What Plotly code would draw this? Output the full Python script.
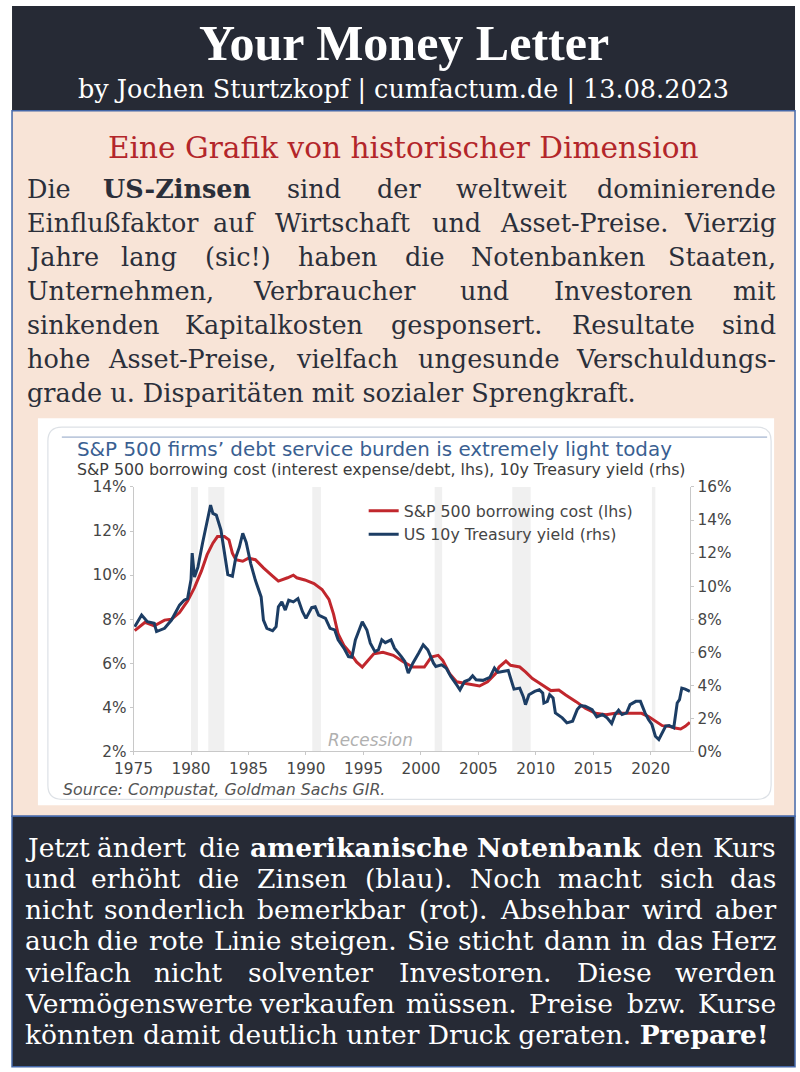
import plotly.graph_objects as go

W, H = 800, 1072
# measured: the photographed page lands at 14 + 0.98 * x, 8 + 0.985 * y,
# so layout positions taken from the reference are mapped back through that
SX, CX = 0.98, 14
SY, CY = 0.9853, 8
FS = 1 / SX

# S&P 500 borrowing cost (interest expense / debt), left axis, in %
red_year = [1975.1, 1976.0, 1976.8, 1977.7, 1978.3, 1979.0, 1979.7, 1980.3, 1980.9, 1981.4,
            1981.9, 1982.3, 1982.9, 1983.3, 1983.6, 1983.9, 1984.5, 1985.0, 1985.6, 1986.3,
            1987.1, 1987.6, 1988.4, 1988.9, 1989.2, 1989.9, 1990.7, 1991.4, 1992.0, 1992.4,
            1992.8, 1993.3, 1993.8, 1994.4, 1994.9, 1995.3, 1995.9, 1996.7, 1997.6, 1998.5,
            1999.3, 2000.3, 2000.9, 2001.5, 2001.9, 2002.5, 2003.1, 2003.9, 2005.1, 2005.8,
            2006.5, 2006.8, 2007.4, 2007.8, 2008.6, 2009.1, 2009.7, 2010.3, 2010.9, 2011.3,
            2012.0, 2012.6, 2013.5, 2014.3, 2015.2, 2016.1, 2016.9, 2018.1, 2019.2, 2019.8,
            2020.4, 2021.0, 2021.6, 2022.1, 2022.6, 2023.0, 2023.4]
red_cost = [7.48, 7.86, 7.70, 7.96, 8.00, 8.30, 8.83, 9.43, 10.18, 10.93,
            11.45, 11.75, 11.75, 11.60, 11.00, 10.70, 10.63, 10.77, 10.70, 10.33,
            9.96, 9.73, 9.88, 10.00, 9.88, 9.78, 9.62, 9.35, 8.90, 8.23,
            7.33, 6.81, 6.50, 6.06, 5.83, 6.06, 6.43, 6.50, 6.36, 6.06,
            5.83, 5.83, 6.28, 6.36, 6.13, 5.53, 5.16, 5.08, 4.97, 5.16,
            5.53, 5.83, 6.10, 5.91, 5.83, 5.61, 5.31, 5.11, 4.91, 4.76,
            4.79, 4.56, 4.26, 3.96, 3.73, 3.66, 3.73, 3.73, 3.73, 3.58,
            3.36, 3.17, 3.14, 3.06, 3.02, 3.14, 3.32]

# US 10y Treasury yield, right axis, in %
blue_year = [1975.1, 1975.7, 1976.2, 1976.8, 1977.0, 1977.7, 1978.3, 1979.0, 1979.4, 1979.7,
             1980.0, 1980.1, 1980.3, 1980.6, 1981.0, 1981.4, 1981.7, 1981.9, 1982.2, 1982.6,
             1982.9, 1983.2, 1983.6, 1983.9, 1984.2, 1984.5, 1984.8, 1985.2, 1985.6, 1986.1,
             1986.3, 1986.6, 1987.1, 1987.4, 1987.6, 1987.9, 1988.2, 1988.5, 1988.9, 1989.3,
             1989.7, 1990.0, 1990.5, 1990.8, 1991.1, 1991.7, 1992.1, 1992.5, 1992.8, 1993.3,
             1993.7, 1994.0, 1994.3, 1994.6, 1994.9, 1995.3, 1995.6, 1996.0, 1996.3, 1996.6,
             1996.9, 1997.4, 1997.7, 1998.3, 1998.6, 1998.9, 1999.3, 1999.8, 2000.2, 2000.6,
             2001.1, 2001.3, 2001.8, 2002.2, 2002.6, 2003.1, 2003.4, 2003.8, 2004.2, 2004.5,
             2004.8, 2005.4, 2006.0, 2006.4, 2006.7, 2007.1, 2007.6, 2007.8, 2008.1, 2008.6,
             2008.9, 2009.1, 2009.4, 2009.9, 2010.3, 2010.6, 2010.7, 2011.0, 2011.2, 2011.5,
             2011.7, 2012.3, 2012.7, 2013.2, 2013.6, 2013.9, 2014.3, 2014.9, 2015.3, 2015.8,
             2016.2, 2016.6, 2016.9, 2017.2, 2017.5, 2017.9, 2018.2, 2018.7, 2019.1, 2019.5,
             2019.8, 2020.1, 2020.4, 2020.7, 2021.0, 2021.3, 2021.6, 2022.0, 2022.3, 2022.5,
             2022.7, 2023.0, 2023.4]
blue_yield = [7.55, 8.25, 7.85, 7.75, 7.25, 7.45, 7.95, 8.85, 9.15, 9.25,
              10.40, 12.00, 10.55, 11.15, 12.60, 13.80, 14.90, 14.40, 14.30, 13.40,
              12.00, 10.70, 10.60, 11.75, 12.35, 13.20, 12.65, 11.35, 10.35, 9.35,
              7.95, 7.45, 7.30, 7.55, 8.75, 9.05, 8.55, 9.15, 9.05, 9.25,
              8.45, 8.05, 8.70, 8.75, 8.25, 8.05, 7.45, 7.35, 6.75, 6.25,
              5.74, 5.70, 6.75, 7.25, 7.85, 7.35, 6.55, 6.04, 6.14, 6.75,
              6.58, 6.75, 6.25, 5.74, 5.44, 4.74, 5.34, 5.94, 6.45, 6.14,
              5.34, 5.14, 5.24, 5.04, 4.54, 4.04, 3.73, 4.23, 4.34, 4.58,
              4.34, 4.30, 4.48, 5.04, 4.78, 4.84, 4.90, 4.44, 3.77, 3.83,
              3.33, 2.83, 3.43, 3.63, 3.73, 3.53, 2.93, 3.03, 3.43, 3.23,
              2.33, 2.03, 1.73, 1.83, 2.53, 2.77, 2.73, 2.53, 2.09, 2.23,
              2.03, 1.69, 2.23, 2.49, 2.23, 2.33, 2.83, 3.03, 3.03, 2.33,
              1.93, 1.63, 0.92, 0.72, 1.12, 1.53, 1.57, 1.43, 2.93, 3.13,
              3.83, 3.77, 3.63]

recession_start = [1980.0, 1981.5, 1990.55, 2001.2, 2007.95, 2020.1]
recession_end = [1980.6, 1982.9, 1991.3, 2001.85, 2009.55, 2020.4]

x_ticks = [1975, 1980, 1985, 1990, 1995, 2000, 2005, 2010, 2015, 2020]
left_ticks = [2, 4, 6, 8, 10, 12, 14]
right_ticks = [0, 2, 4, 6, 8, 10, 12, 14, 16]

intro_title = "Eine Grafik von historischer Dimension"
intro_lines = [
    "Die **US-Zinsen** sind der weltweit dominierende",
    "Einflußfaktor auf Wirtschaft und Asset-Preise. Vierzig",
    "Jahre lang (sic!) haben die Notenbanken Staaten,",
    "Unternehmen, Verbraucher und Investoren mit",
    "sinkenden Kapitalkosten gesponsert. Resultate sind",
    "hohe Asset-Preise, vielfach ungesunde Verschuldungs-",
    "grade u. Disparitäten mit sozialer Sprengkraft.",
]
outro_lines = [
    "Jetzt ändert die **amerikanische** **Notenbank** den Kurs",
    "und erhöht die Zinsen (blau). Noch macht sich das",
    "nicht sonderlich bemerkbar (rot). Absehbar wird aber",
    "auch die rote Linie steigen. Sie sticht dann in das Herz",
    "vielfach nicht solventer Investoren. Diese werden",
    "Vermögenswerte verkaufen müssen. Preise bzw. Kurse",
    "könnten damit deutlich unter Druck geraten. **Prepare!**",
]

DARK = "#262a35"
PEACH = "#f8e4d7"
FRAME = "#4467a8"
SERIF = "DejaVu Serif, Liberation Serif, serif"
SANS = "DejaVu Sans, Verdana, sans-serif"
TICK = "#454545"

# rough advance widths (per 1000 em) for the serif, used to spread words on justified lines
CW = dict(zip("abcdefghijklmnopqrstuvwxyz",
              [596, 640, 560, 640, 592, 370, 640, 644, 320, 310, 606, 320, 948,
               644, 602, 640, 640, 478, 513, 402, 644, 565, 856, 564, 565, 527]))
CW.update(dict(zip("ABCDEFGHIJKLMNOPQRSTUVWXYZ",
                   [722, 735, 765, 802, 730, 694, 799, 872, 395, 401, 747, 664, 1024,
                    875, 820, 673, 820, 753, 685, 667, 843, 722, 1028, 712, 660, 695])))
CW.update({"ä": 596, "ö": 602, "ü": 644, "ß": 640, ".": 318, ",": 318, "-": 338,
           "(": 390, ")": 390, "!": 402, ":": 337})


def px(x):
    return (x - CX) / SX / W


def py(y):
    return 1 - (y - CY) / SY / H


def text_w(s, size, bold=False):
    # width as it ends up in the picture
    w = sum(CW.get(c, 600) for c in s) * size / 1000
    return w * 1.1 if bold else w


def add_text(fig, text, x, y, size, color, family=SERIF, anchor="left", **kw):
    fig.add_annotation(x=px(x), y=py(y), xref="paper", yref="paper", text=text,
                       showarrow=False, xanchor=anchor, yanchor="middle",
                       font=dict(family=family, size=size * FS, color=color), **kw)


def add_line(fig, line, y, x0, x1, size, color, justify=True):
    parts = [(w.strip("*"), w.startswith("**")) for w in line.split(" ")]
    if not justify:
        txt = " ".join(f"<b>{w}</b>" if b else w for w, b in parts)
        add_text(fig, txt, x0, y, size, color)
        return
    widths = [text_w(w, size, b) for w, b in parts]
    gap = (x1 - x0 - sum(widths)) / (len(parts) - 1)
    cur = x0
    for i, ((w, b), ww) in enumerate(zip(parts, widths)):
        txt = f"<b>{w}</b>" if b else w
        if i == 0:
            add_text(fig, txt, cur, y, size, color, anchor="left")
        elif i == len(parts) - 1:
            add_text(fig, txt, x1, y, size, color, anchor="right")
        else:
            add_text(fig, txt, cur + ww / 2, y, size, color, anchor="center")
        cur += ww + gap


def rect(fig, x0, y0, x1, y1, fill, line=None, lw=0):
    fig.add_shape(type="rect", xref="paper", yref="paper", layer="below",
                  x0=px(x0), x1=px(x1), y0=py(y1), y1=py(y0), fillcolor=fill,
                  line=dict(color=line or fill, width=lw))


def rounded(x0, y0, x1, y1, r):
    p = lambda x, y: f"{px(x)},{py(y)}"
    return (f"M {p(x0 + r, y0)} L {p(x1 - r, y0)} Q {p(x1, y0)} {p(x1, y0 + r)} "
            f"L {p(x1, y1 - r)} Q {p(x1, y1)} {p(x1 - r, y1)} L {p(x0 + r, y1)} "
            f"Q {p(x0, y1)} {p(x0, y1 - r)} L {p(x0, y0 + r)} Q {p(x0, y0)} {p(x0 + r, y0)} Z")


fig = go.Figure()

fig.add_trace(go.Scatter(x=red_year, y=red_cost, mode="lines", yaxis="y",
                         name="S&P 500 borrowing cost (lhs)",
                         line=dict(color="#c1272d", width=3)))
fig.add_trace(go.Scatter(x=blue_year, y=blue_yield, mode="lines", yaxis="y2",
                         name="US 10y Treasury yield (rhs)",
                         line=dict(color="#1c3d64", width=3)))

# page blocks
rect(fig, 7, 5, 793, 110, DARK)
rect(fig, 7, 110, 793, 817, PEACH, FRAME, 1.5)
rect(fig, 33, 418, 772, 806, "white")
fig.add_shape(type="path", xref="paper", yref="paper", layer="below",
              path=rounded(43, 427, 769, 800, 14), line=dict(color="#dde1e6", width=1.2))
fig.add_shape(type="line", xref="paper", yref="paper", layer="below",
              x0=px(57), x1=px(765), y0=py(437), y1=py(437),
              line=dict(color="#8ea3c4", width=1))
rect(fig, 7, 817, 793, 1068, DARK, FRAME, 1.5)

for a, b in zip(recession_start, recession_end):
    fig.add_shape(type="rect", xref="x", yref="y", layer="below",
                  x0=a, x1=b, y0=2, y1=14, fillcolor="#f0f0f0", line=dict(width=0))

# header
add_text(fig, "<b>Your Money Letter</b>", 400, 42, 49, "white",
         family="Liberation Serif, serif", anchor="center")
add_text(fig, "by Jochen Sturtzkopf | cumfactum.de | 13.08.2023", 400, 88, 25, "white",
         anchor="center")

# intro block
add_text(fig, intro_title, 400, 147, 29, "#b3262a", anchor="center")
for i, line in enumerate(intro_lines):
    add_line(fig, line, 188 + i * 34.2, 20, 776, 25, "#2b2f3a",
             justify=i < len(intro_lines) - 1)

# chart texts
add_text(fig, "S&P 500 firms’ debt service burden is extremely light today", 70, 449, 19.5,
         "#3a5f92", family=SANS)
add_text(fig, "S&P 500 borrowing cost (interest expense/debt, lhs), 10y Treasury yield (rhs)",
         70, 469, 15.5, "#3c3c3c", family=SANS)
add_text(fig, "<i>Recession</i>", 367, 741, 16.5, "#b0b0b0", family=SANS, anchor="center")
add_text(fig, "<i>Source: Compustat, Goldman Sachs GIR.</i>", 56, 790, 15.5, "#555555",
         family=SANS)

# closing block
for i, line in enumerate(outro_lines):
    add_line(fig, line, 848 + i * 31.3, 18, 776, 26, "white",
             justify=i < len(outro_lines) - 1)

axis_common = dict(showgrid=False, zeroline=False, showline=True, linecolor="#c8c8c8",
                   linewidth=1, ticks="outside", ticklen=3, tickcolor="#c8c8c8",
                   tickfont=dict(family=SANS, size=15 * FS, color=TICK))

fig.update_layout(
    width=W, height=H,
    margin=dict(l=0, r=0, t=0, b=0),
    paper_bgcolor="white",
    plot_bgcolor="rgba(0,0,0,0)",
    showlegend=True,
    legend=dict(x=px(360), y=py(494), xanchor="left", yanchor="top",
                bgcolor="rgba(0,0,0,0)", font=dict(family=SANS, size=15.5 * FS, color=TICK),
                tracegroupgap=0),
    xaxis=dict(domain=[px(129), px(688)], range=[1975, 2023.45], tickvals=x_ticks,
               anchor="y", **axis_common),
    yaxis=dict(domain=[py(752), py(487)], range=[2, 14], tickvals=left_ticks,
               ticktext=[f"{v}%" for v in left_ticks], **axis_common),
    yaxis2=dict(domain=[py(752), py(487)], range=[0, 16], tickvals=right_ticks,
                ticktext=[f"{v}%" for v in right_ticks], overlaying="y", side="right",
                anchor="x", **axis_common),
)

fig.write_html("out.html", config={"displayModeBar": False},
               post_script="document.body.style.margin='0';")
